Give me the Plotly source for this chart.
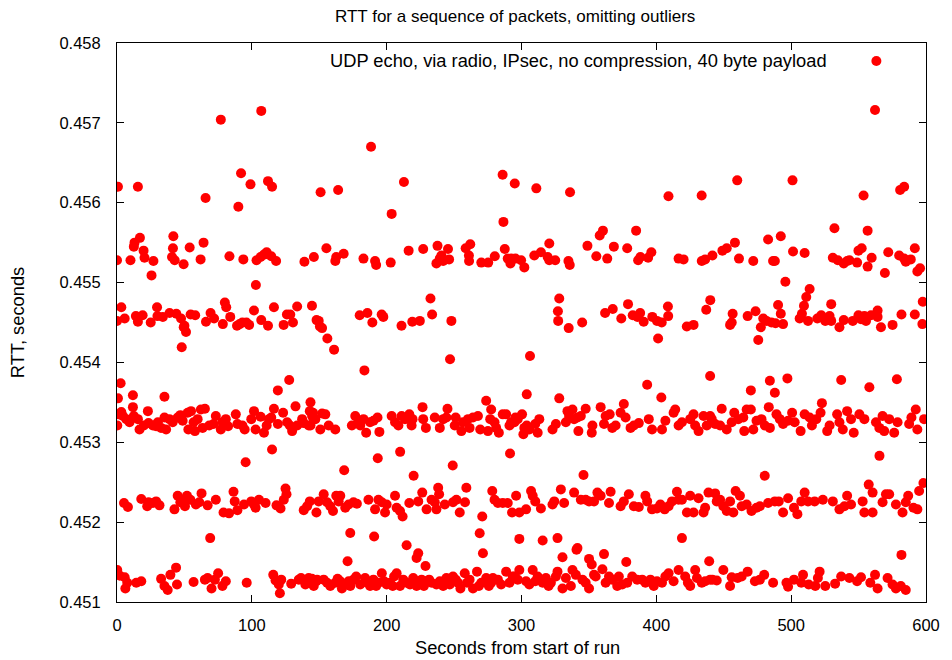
import plotly.graph_objects as go

# Round-trip times (seconds from start of run, RTT in microseconds),
# grouped by the latency level they cluster around.

level_4513 = [
    (0.2, 451400), (2.0, 451330), (5.7, 451310), (7.6, 451240), (6.2, 451170), (14.3, 451240),
    (18.0, 451260), (32.7, 451290), (35.2, 451200), (37.6, 451150), (39.6, 451340), (43.8, 451430),
    (44.5, 451220), (56.8, 451250), (65.2, 451280), (67.2, 451300), (70.1, 451170), (72.6, 451280),
    (75.0, 451360), (78.2, 451200), (80.7, 451260), (96.2, 451240), (115.9, 451340), (117.6, 451270),
    (120.0, 451220), (120.8, 451110), (121.8, 451280), (129.2, 451230), (134.8, 451280), (136.5, 451300),
    (139.7, 451220), (144.6, 451290), (147.9, 451260),
    (142.2, 451300), (145.9, 451200), (148.4, 451280), (153.3, 451280), (155.8, 451240), (158.2, 451200),
    (161.9, 451240), (163.6, 451290), (165.6, 451260), (166.8, 451170), (170.0, 451220), (171.8, 451260),
    (173.0, 451200), (175.4, 451280), (177.4, 451320), (180.4, 451220), (184.0, 451300), (185.8, 451240),
    (187.7, 451200), (190.2, 451280), (192.2, 451200), (193.9, 451240), (196.4, 451360), (198.1, 451260),
    (200.0, 451220), (202.5, 451240), (204.5, 451200), (205.5, 451320), (207.4, 451360), (209.9, 451200),
    (212.3, 451280), (214.8, 451240), (217.3, 451220), (219.7, 451300), (222.2, 451200), (224.1, 451240),
    (225.9, 451280), (227.6, 451200), (229.6, 451260), (231.5, 451280), (233.3, 451240), (236.9, 451220),
    (239.4, 451260), (241.9, 451200), (244.3, 451300), (246.8, 451220), (249.2, 451320), (251.2, 451280),
    (252.9, 451240), (254.7, 451170), (257.9, 451360), (259.6, 451240), (261.5, 451280), (264.0, 451170),
    (267.0, 451380), (268.4, 451200), (270.2, 451240), (273.8, 451300), (275.8, 451200), (277.5, 451240),
    (278.8, 451300), (282.5, 451280), (284.9, 451220), (288.6, 451380), (291.1, 451240), (294.8, 451320),
    (293.5, 451320), (297.2, 451280), (298.4, 451400), (303.4, 451260), (305.8, 451220), (308.3, 451400),
    (310.2, 451260), (312.0, 451320), (315.7, 451240), (318.1, 451300), (320.1, 451200), (321.8, 451240),
    (325.5, 451320), (326.7, 451380), (330.4, 451170), (332.9, 451300), (336.6, 451200), (337.8, 451400),
    (340.3, 451340), (345.2, 451280), (347.6, 451240), (350.1, 451170), (353.8, 451340), (355.0, 451320),
    (362.4, 451240), (364.9, 451320), (367.3, 451280), (371.0, 451200), (372.2, 451320), (374.7, 451220),
    (378.4, 451240), (382.1, 451320), (385.8, 451280), (389.5, 451280), (391.9, 451240), (395.6, 451280),
    (398.1, 451200), (400.5, 451260), (404.2, 451240), (406.7, 451320), (409.1, 451360), (412.8, 451260),
    (416.5, 451400), (421.4, 451320), (423.4, 451240), (425.1, 451200), (428.8, 451400), (430.1, 451300),
    (433.7, 451240), (436.2, 451260), (441.6, 451280),
    (439.9, 451280), (444.8, 451270), (449.7, 451400), (454.7, 451200), (455.9, 451310), (460.3, 451300),
    (463.3, 451320), (467.7, 451380), (473.1, 451260), (476.8, 451280), (480.0, 451340), (486.6, 451240),
    (496.5, 451240), (497.7, 451190), (502.1, 451280), (507.5, 451240), (508.8, 451340), (513.0, 451220),
    (517.9, 451200), (519.8, 451300), (521.1, 451380), (525.3, 451200), (532.6, 451230), (537.1, 451320),
    (543.2, 451300), (548.9, 451260), (551.8, 451310), (558.7, 451240), (562.2, 451340), (564.1, 451170),
    (571.5, 451300), (575.2, 451220), (577.7, 451170), (581.3, 451200), (585.0, 451150),
]

level_4522 = [
    (5.2, 452240), (8.1, 452190), (18.0, 452290), (22.4, 452200), (23.4, 452250), (26.6, 452240),
    (29.0, 452260), (31.5, 452210), (42.6, 452160), (45.0, 452330), (47.0, 452250), (48.0, 452280),
    (50.4, 452200), (51.9, 452330), (54.4, 452280), (58.5, 452220), (61.0, 452250), (62.7, 452360),
    (67.2, 452210), (73.3, 452280), (79.0, 452120), (83.1, 452110), (86.4, 452380), (87.3, 452260),
    (89.3, 452150), (94.2, 452220), (99.6, 452260), (101.6, 452220), (102.8, 452180), (105.3, 452280),
    (110.2, 452240), (118.3, 452210), (121.3, 452170), (123.7, 452280), (125.0, 452420), (125.7, 452350),
    (138.5, 452150), (141.0, 452200), (143.0, 452260), (147.9, 452120),
    (149.6, 452260), (153.3, 452350), (155.8, 452250), (158.2, 452200), (160.2, 452140), (162.6, 452330),
    (164.4, 452260), (165.6, 452330), (169.3, 452180), (171.8, 452220), (175.4, 452250), (177.9, 452230),
    (186.5, 452280), (191.4, 452160), (193.9, 452280), (196.4, 452250), (198.8, 452120), (200.0, 452220),
    (206.2, 452330), (207.4, 452180), (209.9, 452140), (211.8, 452070), (216.8, 452240), (223.4, 452260),
    (226.4, 452370), (229.6, 452160), (233.3, 452280), (235.7, 452250), (236.9, 452160), (238.2, 452430),
    (238.9, 452350), (243.1, 452220), (249.2, 452250), (251.7, 452280), (254.2, 452120), (258.1, 452250),
    (259.1, 452430), (278.3, 452390), (280.0, 452280), (282.5, 452240), (286.1, 452240), (289.8, 452240),
    (293.0, 452120),
    (296.0, 452330), (298.4, 452120), (303.4, 452160), (307.1, 452390), (308.3, 452330), (310.2, 452260),
    (314.4, 452170), (323.0, 452220), (324.3, 452260), (329.2, 452410), (331.6, 452240), (339.0, 452370),
    (344.0, 452280), (347.6, 452280), (350.1, 452260), (353.8, 452260), (356.3, 452370), (358.7, 452330),
    (364.9, 452240), (366.1, 452380), (373.5, 452200), (375.9, 452260), (379.6, 452350), (383.3, 452200),
    (387.0, 452190), (391.9, 452330), (393.2, 452260), (396.8, 452160), (400.5, 452170), (403.0, 452220),
    (406.2, 452160), (409.1, 452200), (411.6, 452260), (415.3, 452380), (416.5, 452280), (419.0, 452280),
    (422.7, 452120), (425.1, 452330), (427.6, 452120), (431.3, 452300), (435.0, 452120), (438.7, 452370),
    (436.2, 452180), (443.6, 452360), (444.8, 452260), (447.3, 452280), (449.7, 452200), (452.2, 452140),
    (454.7, 452260), (457.1, 452120), (458.8, 452390), (462.0, 452330), (463.3, 452200), (467.0, 452220),
    (470.6, 452140), (474.3, 452180), (476.8, 452200), (482.9, 452240), (487.9, 452260), (490.8, 452260),
    (494.0, 452120), (497.7, 452300), (502.1, 452180), (504.6, 452100), (507.5, 452260), (510.0, 452370),
    (512.5, 452260), (517.4, 452260), (523.5, 452280), (530.9, 452260), (535.8, 452160), (539.5, 452200),
    (541.5, 452330), (544.4, 452220), (553.0, 452260), (554.3, 452120), (557.5, 452470), (560.4, 452120),
    (560.4, 452370), (567.8, 452250), (570.3, 452350), (572.7, 452350), (577.7, 452220), (582.6, 452120),
    (585.0, 452250), (586.8, 452330), (590.7, 452180), (593.6, 452160), (594.9, 452390), (598.1, 452490),
]

level_4532 = [
    (0.2, 453210), (1.2, 453350), (3.2, 453380), (4.4, 453330), (6.9, 453290), (9.3, 453250),
    (11.8, 453440), (12.5, 453330), (15.5, 453290), (16.7, 453160), (19.9, 453210), (22.9, 453390),
    (23.4, 453240), (26.6, 453210), (29.0, 453200), (30.3, 453250), (32.7, 453180), (35.2, 453310),
    (36.4, 453160), (38.9, 453290), (41.3, 453250), (45.0, 453310), (47.0, 453340), (48.7, 453270),
    (52.4, 453370), (52.9, 453160), (54.9, 453390), (56.8, 453250), (57.8, 453140), (59.8, 453290),
    (62.2, 453410), (63.5, 453180), (65.2, 453420), (68.4, 453210), (71.6, 453230), (73.3, 453330),
    (77.0, 453160), (78.2, 453250), (80.7, 453290), (82.4, 453200), (88.1, 453350), (89.3, 453230),
    (93.0, 453210), (94.7, 453160), (99.6, 453290), (101.6, 453390), (102.8, 453160), (106.5, 453320),
    (109.0, 453120), (111.0, 453210), (112.7, 453290), (114.4, 453310), (116.4, 453420), (119.3, 453230),
    (123.2, 453370), (126.2, 453250), (128.2, 453210), (129.9, 453140), (132.4, 453450), (133.6, 453210),
    (137.3, 453290), (138.5, 453240), (142.2, 453210), (145.4, 453370), (147.1, 453290),
    (143.5, 453500), (143.0, 453390), (144.7, 453330), (145.9, 453290), (143.5, 453210), (150.8, 453160),
    (152.1, 453360), (154.5, 453350), (157.0, 453210), (161.9, 453160), (174.2, 453210), (176.7, 453330),
    (179.1, 453270), (180.4, 453210), (182.8, 453290), (184.8, 453120), (187.7, 453250), (190.2, 453270),
    (193.2, 453310), (194.6, 453130), (203.7, 453330), (206.2, 453250), (208.7, 453210), (211.1, 453330),
    (213.6, 453290), (216.8, 453350), (219.2, 453290), (218.5, 453210), (226.6, 453440), (227.1, 453290),
    (229.1, 453180), (235.7, 453310), (239.4, 453180), (241.9, 453290), (244.3, 453310), (245.1, 453420),
    (251.2, 453310), (250.5, 453210), (255.4, 453140), (256.6, 453250), (260.3, 453290), (261.5, 453180),
    (264.0, 453310), (267.7, 453330), (269.4, 453160), (273.8, 453520), (275.1, 453140), (276.8, 453290),
    (277.5, 453410), (280.0, 453250), (281.2, 453180), (283.2, 453120), (286.1, 453350), (288.6, 453350),
    (291.1, 453210), (294.8, 453250),
    (292.3, 453250), (295.5, 453310), (297.2, 453290), (300.4, 453350), (302.1, 453180), (301.4, 453100),
    (303.9, 453210), (305.8, 453160), (310.2, 453230), (312.0, 453120), (313.2, 453290), (323.0, 453160),
    (325.5, 453230), (332.9, 453250), (334.1, 453390), (335.3, 453330), (337.8, 453410), (339.0, 453290),
    (341.5, 453310), (342.2, 453140), (344.0, 453330), (347.6, 453420), (352.1, 453120), (352.6, 453210),
    (358.7, 453440), (361.2, 453230), (362.4, 453330), (365.4, 453350), (367.3, 453180), (369.8, 453210),
    (373.5, 453370), (375.9, 453480), (377.2, 453310), (380.9, 453180), (383.3, 453210), (387.0, 453240),
    (394.4, 453290), (396.8, 453160), (404.2, 453160), (406.7, 453270), (412.8, 453370), (414.0, 453410),
    (416.5, 453210), (419.0, 453250), (425.1, 453290), (427.6, 453350), (428.8, 453210), (431.3, 453140),
    (435.0, 453330), (437.4, 453210), (441.1, 453290),
    (439.9, 453330), (443.6, 453230), (447.3, 453210), (448.5, 453420), (452.2, 453160), (455.9, 453250),
    (457.8, 453370), (460.8, 453290), (464.5, 453310), (465.2, 453140), (467.0, 453410), (470.1, 453410),
    (471.9, 453160), (474.3, 453270), (478.0, 453290), (480.5, 453210), (483.4, 453440), (484.2, 453180),
    (489.1, 453350), (491.6, 453290), (494.0, 453230), (497.7, 453270), (500.7, 453370), (502.6, 453250),
    (507.0, 453140), (510.0, 453350), (513.7, 453310), (515.4, 453210), (518.6, 453290), (521.8, 453370),
    (522.8, 453490), (526.7, 453140), (528.5, 453210), (534.1, 453350), (535.8, 453250), (538.3, 453160),
    (541.5, 453390), (544.4, 453290), (546.4, 453120), (550.6, 453350), (554.3, 453290), (562.9, 453250),
    (565.4, 453180), (567.8, 453330), (569.0, 453140), (572.7, 453290), (576.4, 453120), (578.9, 453250),
    (587.5, 453230), (589.2, 453310), (592.4, 453410), (593.6, 453160), (598.6, 453290),
]

level_4545 = [
    (0.0, 454520), (3.2, 454690), (5.7, 454550), (14.0, 454580), (15.5, 454510), (19.0, 454590),
    (25.0, 454500), (29.7, 454690), (30.0, 454580), (34.0, 454570), (39.0, 454620), (44.0, 454610),
    (47.5, 454550), (49.5, 454440), (50.0, 454460), (54.6, 454600), (58.0, 454590), (66.0, 454510),
    (69.4, 454620), (72.0, 454550), (78.5, 454480), (80.0, 454750), (81.0, 454690), (84.0, 454570),
    (89.0, 454460), (91.0, 454480), (93.0, 454500), (96.0, 454500), (98.0, 454470), (101.6, 454650),
    (107.0, 454530), (112.0, 454460), (116.4, 454690), (123.6, 454470), (126.0, 454600), (128.5, 454600),
    (130.5, 454500), (133.6, 454700), (144.6, 454710), (148.0, 454530), (149.6, 454520), (150.5, 454450),
    (152.1, 454430), (180.0, 454590), (185.7, 454620), (189.4, 454500), (196.3, 454600), (197.5, 454570),
    (211.0, 454460), (219.0, 454510), (224.6, 454520), (232.5, 454800), (233.7, 454600), (248.0, 454520),
    (327.0, 454640), (327.2, 454520), (328.0, 454800), (335.0, 454430), (345.0, 454500), (362.0, 454620),
    (367.7, 454670), (374.0, 454550), (379.0, 454730), (382.5, 454590), (386.0, 454570), (388.0, 454620),
    (390.6, 454510), (397.0, 454570), (400.5, 454520), (404.0, 454500), (408.6, 454700), (408.8, 454580),
    (422.6, 454450), (427.6, 454470), (437.0, 454660), (440.0, 454780),
    (454.7, 454470), (455.9, 454500), (456.6, 454610), (467.7, 454580), (473.6, 454640), (477.5, 454440),
    (479.3, 454550), (481.7, 454520), (485.4, 454500), (488.4, 454490), (490.3, 454720), (492.3, 454610),
    (494.0, 454480), (506.3, 454550), (508.0, 454610), (509.5, 454710), (511.2, 454820), (513.7, 454920),
    (512.5, 454520), (519.4, 454550), (522.3, 454590), (525.3, 454520), (528.5, 454580), (529.7, 454520),
    (529.7, 454730), (535.8, 454440), (539.0, 454530), (545.7, 454520), (549.9, 454590), (551.8, 454540),
    (554.3, 454580), (555.5, 454520), (559.2, 454590), (564.1, 454650), (564.1, 454570), (566.6, 454440),
    (575.2, 454470), (581.8, 454600), (591.7, 454600), (597.6, 454760), (597.3, 454480),
]

level_4553 = [
    (0.0, 455280), (10.0, 455280), (12.5, 455450), (13.0, 455500), (17.0, 455560), (19.7, 455400),
    (20.4, 455310), (25.6, 455090), (27.0, 455270), (40.8, 455320), (41.5, 455430), (41.8, 455580),
    (42.8, 455280), (49.4, 455230), (53.9, 455440), (62.0, 455290), (64.2, 455500), (83.4, 455330),
    (93.7, 455290), (103.0, 454970), (103.5, 455280), (106.5, 455320), (109.0, 455350), (111.0, 455380),
    (114.4, 455330), (118.0, 455270), (139.0, 455260), (146.0, 455320),
    (155.3, 455430), (161.9, 455270), (162.6, 455320), (168.1, 455360), (182.8, 455300), (191.4, 455270),
    (192.2, 455220), (203.0, 455250), (216.3, 455400), (227.1, 455420), (236.9, 455240), (237.7, 455460),
    (239.4, 455300), (240.6, 455340), (241.9, 455270), (245.5, 455420), (246.3, 455290), (258.6, 455430),
    (262.0, 455480), (261.0, 455340), (261.1, 455270), (270.2, 455250), (275.3, 455250), (280.2, 455330),
    (287.6, 455420), (289.8, 455300), (291.8, 455240),
    (292.3, 455300), (295.5, 455300), (299.7, 455280), (302.1, 455190), (309.5, 455340), (314.4, 455380),
    (320.6, 455490), (319.4, 455320), (320.6, 455280), (325.0, 455280), (334.8, 455270), (335.8, 455220),
    (348.9, 455460), (355.5, 455330), (358.0, 455590), (360.4, 455650), (363.6, 455300), (368.5, 455450),
    (378.4, 455430), (385.0, 455650), (386.5, 455280), (388.2, 455320), (393.9, 455310), (396.3, 455380),
    (416.5, 455300), (420.2, 455290), (433.7, 455270), (436.2, 455290), (441.6, 455340),
    (449.0, 455400), (452.2, 455430), (458.3, 455500), (461.3, 455300), (471.9, 455270), (482.9, 455540),
    (486.6, 455270), (487.9, 455270), (492.3, 455580), (495.7, 455010), (501.4, 455390), (510.0, 455370),
    (530.9, 455310), (534.6, 455280), (539.0, 455240), (541.5, 455270), (543.2, 455280), (548.9, 455250),
    (549.9, 455400), (552.3, 455430), (556.7, 455200), (559.7, 455310), (569.5, 455120), (572.0, 455380),
    (580.1, 455340), (583.8, 455300), (585.0, 455260), (588.7, 455290), (591.7, 455430), (593.6, 455140),
    (595.6, 455180),
]

# Samples that fall away from the five levels
scattered = [
    (0.7, 456200), (15.5, 456200), (65.7, 456060), (77.0, 457040), (90.0, 455950), (92.0, 456370),
    (99.0, 456230), (107.0, 457150), (112.0, 456270), (115.0, 456200), (151.0, 456130), (164.0, 456160),
    (188.4, 456700), (203.7, 455860), (212.8, 456260), (286.0, 456350), (286.6, 455760), (295.0, 456240),
    (311.0, 456180), (336.0, 456130), (409.0, 456080), (433.6, 456090), (460.0, 456280), (501.0, 456280),
    (532.1, 455680), (553.7, 456090), (556.7, 455650), (562.2, 457160), (580.8, 456160), (583.8, 456200),
    (0.7, 453550), (2.7, 453740), (11.8, 453590), (35.2, 453570), (48.0, 454190), (51.2, 454380),
    (119.3, 453650), (127.7, 453780), (156.0, 454300), (161.0, 454160), (183.5, 453900), (247.0, 454040),
    (303.9, 453600), (306.3, 454080), (328.0, 453550), (393.2, 453720), (401.3, 454300), (403.7, 453560),
    (439.9, 453830), (470.1, 453650), (475.6, 454280), (484.2, 453770), (487.9, 453620), (497.2, 453800),
    (537.1, 453780), (558.0, 453690), (578.4, 453790),
    (95.4, 452750), (115.0, 452910), (168.5, 452650), (193.4, 452800), (210.0, 452880), (220.0, 452580),
    (249.0, 452710), (291.5, 452860), (346.0, 452590), (480.4, 452580), (565.5, 452830),
    (69.1, 451800), (171.0, 451510), (173.0, 451865), (190.7, 451820), (214.8, 451710), (222.2, 451550),
    (223.4, 451610), (228.8, 451450), (269.0, 451860), (270.9, 452070), (271.4, 451610), (298.4, 451790),
    (315.7, 451770), (326.7, 451800), (330.4, 451560), (340.8, 451655), (341.5, 451676), (350.1, 451540),
    (352.1, 451470), (360.0, 451410), (361.2, 451600), (377.7, 451500), (419.0, 451800), (439.2, 451510),
    (581.8, 451590),
]

groups = [level_4513, level_4522, level_4532, level_4545, level_4553, scattered]
seconds = [t for g in groups for t, _ in g]
rtt = [us * 1e-6 for g in groups for _, us in g]

x_ticks = [0, 100, 200, 300, 400, 500, 600]
y_ticks = [0.451, 0.452, 0.453, 0.454, 0.455, 0.456, 0.457, 0.458]

series_label = "UDP echo, via radio, IPsec, no compression, 40 byte payload"
title_text = "RTT for a sequence of packets, omitting outliers"

FONT = "Liberation Sans, Arial, sans-serif"
RED = "#ff0000"

fig = go.Figure()
fig.add_trace(go.Scatter(
    x=seconds, y=rtt, mode="markers", name=series_label,
    marker=dict(color=RED, size=10, line=dict(width=0)),
    showlegend=False, hoverinfo="x+y",
))

axis_common = dict(
    showline=True, mirror="ticks", linecolor="#000000", linewidth=1,
    ticks="inside", ticklen=7, tickcolor="#000000", tickwidth=1,
    showgrid=False, zeroline=False,
    tickfont=dict(family=FONT, size=16.5, color="#000000"),
)

fig.update_xaxes(range=[0, 600], tickvals=x_ticks,
                 ticktext=[str(v) for v in x_ticks], ticklabelstandoff=8, **axis_common)
fig.update_yaxes(range=[0.451, 0.458], tickvals=y_ticks,
                 ticktext=[f"{v:.3f}" for v in y_ticks], ticklabelstandoff=12, **axis_common)

fig.update_layout(
    width=952, height=660,
    margin=dict(l=117, r=20, t=43, b=58),
    paper_bgcolor="#ffffff", plot_bgcolor="#ffffff",
    font=dict(family=FONT, size=16.5, color="#000000"),
    annotations=[
        dict(text=title_text, xref="paper", yref="paper", x=(518 - 117) / 815, y=1.0 + (43 - 17) / 559,
             xanchor="center", yanchor="middle", showarrow=False,
             font=dict(family=FONT, size=17)),
        dict(text="RTT, seconds", xref="paper", yref="paper", x=-(117 - 17) / 815, y=0.5,
             xanchor="center", yanchor="middle", textangle=-90, showarrow=False,
             font=dict(family=FONT, size=18.3)),
        dict(text="Seconds from start of run", xref="paper", yref="paper", x=(520 - 117) / 815,
             y=-(646 - 601) / 559, xanchor="center", yanchor="middle", showarrow=False,
             font=dict(family=FONT, size=18.3)),
        dict(text=series_label, xref="paper", yref="paper", x=(834 - 117) / 815,
             y=1.0 - (61 - 43) / 559, xanchor="right", yanchor="middle", showarrow=False,
             font=dict(family=FONT, size=18.3)),
    ],
    shapes=[
        dict(type="circle", xref="paper", yref="paper", xsizemode="pixel", ysizemode="pixel",
             xanchor=(882 - 117) / 815, yanchor=1.0 - (61 - 43) / 559,
             x0=-5, x1=5, y0=-5, y1=5, fillcolor=RED, line=dict(width=0)),
    ],
)

fig.write_html("out.html")
